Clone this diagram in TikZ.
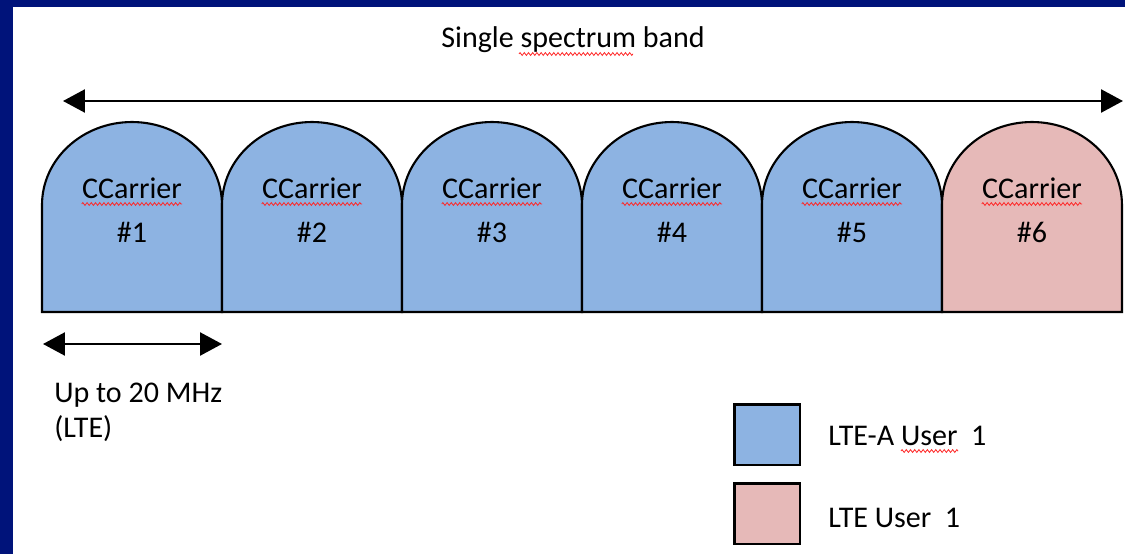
\documentclass[tikz,border=0pt]{standalone}
\usepackage{fontspec}
\setmainfont{Carlito}
\usepackage{tikz}
\usetikzlibrary{arrows.meta,decorations.pathmorphing,calc}
\definecolor{frame}{HTML}{00137A}
\definecolor{ltea}{HTML}{8DB3E2}
\definecolor{lte}{HTML}{E6B9B8}
\tikzset{>={Triangle[length=0.44cm,width=0.46cm]}}
\tikzset{
  band/.style={<->,line width=1.4pt},
  carrier/.style={draw=black,line width=1.2pt},
  txt/.style={font=\fontsize{17.1}{20}\selectfont,inner sep=0pt,anchor=base},
  squig/.style={red!85,line width=0.45pt,decorate,
    decoration={zigzag,segment length=2.4pt,amplitude=0.8pt}},
  keybox/.style={draw=black,line width=1.7pt,minimum width=1.32cm,
    minimum height=1.22cm,inner sep=0pt}
}
% one carrier: #1 number, #2 left edge, #3 fill
\newcommand{\carrier}[3]{%
  \draw[carrier,fill=#3] (#2,-312) -- (#2,-205)
    arc[start angle=180,end angle=0,x radius=1.8cm,y radius=1.66cm]
    -- (#2+180,-312) -- cycle;
  \node[txt] (cc#1) at (#2+90,-198) {CCarrier};
  \node[txt] (num#1) at (#2+90,-242) {\##1};
  \draw[squig] ($(cc#1.base west)+(0,-6)$) -- ($(cc#1.base east)+(0,-6)$);
}

\begin{document}
\begin{tikzpicture}[x=0.02cm,y=0.02cm]
\fill[frame] (0,0) rectangle (1125,-554);
\fill[white] (13,-7) rectangle (1125,-554);
% spectrum band
\node[txt] (title) at (573,-48) {Single spectrum\ band};
\draw[squig] ($(title.base west)+(78,-6)$) -- ($(title.base west)+(192,-6)$);
\coordinate (bandL) at (63,-101);
\coordinate (bandR) at (1123,-101);
\draw[band] (bandL) -- (bandR);
% carriers
\foreach \i/\c [evaluate=\i as \lft using 42+180*(\i-1)]
  in {1/ltea,2/ltea,3/ltea,4/ltea,5/ltea,6/lte}
  {\carrier{\i}{\lft}{\c}}
% carrier width
\coordinate (wL) at (43,-344);
\coordinate (wR) at (222,-344);
\draw[band] (wL) -- (wR);
\node[txt,anchor=base west] (wtxt) at (54,-402) {Up to 20 MHz};
\node[txt,anchor=base west] (wlte) at (54,-437) {(LTE)};
% legend
\node[keybox,fill=ltea] (keyA) at (767,-434.5) {};
\node[keybox,fill=lte] (keyB) at (767,-513.5) {};
\node[txt,anchor=base west] (keyAtxt) at (828,-445) {LTE-A User\ \ 1};
\node[txt,anchor=base west] (keyBtxt) at (828,-527) {LTE User\ \ 1};
\draw[squig] ($(keyAtxt.base west)+(73,-6)$) -- ($(keyAtxt.base west)+(130,-6)$);
\end{tikzpicture}
\end{document}
